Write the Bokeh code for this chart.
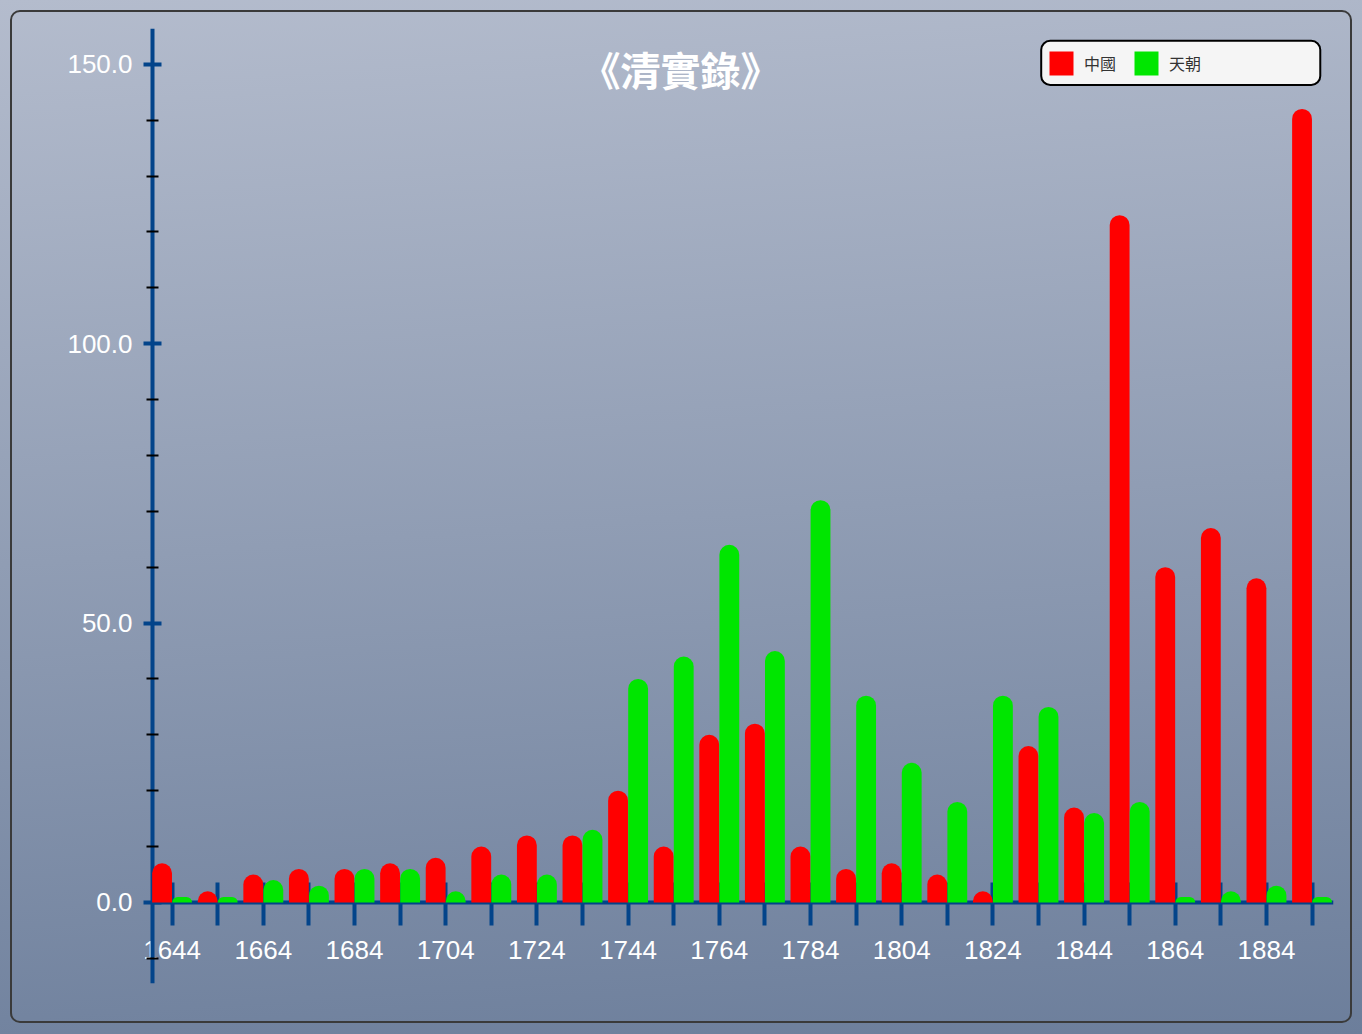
from bokeh.plotting import figure
from bokeh.models import (Range1d, FixedTicker, Label, Legend, LegendItem, LinearAxis,
                          ColumnDataSource, PrintfTickFormatter, CustomJSTickFormatter,
                          BoxAnnotation)
from bokeh.transform import dodge
from bokeh.embed import file_html
from bokeh.resources import INLINE

# ---------------- data ----------------
years = [1644, 1654, 1664, 1674, 1684, 1694, 1704, 1714, 1724, 1734, 1744, 1754, 1764,
         1774, 1784, 1794, 1804, 1814, 1824, 1834, 1844, 1854, 1864, 1874, 1884, 1894]
china = [7, 2, 5, 6, 6, 7, 8, 10, 12, 12, 20, 10, 30,
         32, 10, 6, 7, 5, 2, 28, 17, 123, 60, 67, 58, 142]
tianchao = [1, 1, 4, 3, 6, 6, 2, 5, 5, 13, 40, 44, 64,
            45, 72, 37, 25, 18, 37, 35, 16, 18, 1, 2, 3, 1]
series_names = ["中國", "天朝"]
title_text = "《清實錄》"

x_label_ticks = [1644, 1664, 1684, 1704, 1724, 1744, 1764, 1784, 1804, 1824, 1844, 1864, 1884]
x_minor_ticks = [1654, 1674, 1694, 1714, 1734, 1754, 1774, 1794, 1814, 1834, 1854, 1874, 1894]
y_major_ticks = [0, 50, 100, 150]
y_minor_ticks = [-10, 10, 20, 30, 40, 60, 70, 80, 90, 110, 120, 130, 140]

# axis extents (data units)
X_AXIS_START, X_AXIS_END = 1639.7, 1898.7
X_VIEW_START = 1636.63
Y_START, Y_END = -14.5, 156.4

# ---------------- styling ----------------
AXIS_BLUE = "#03448a"
RED = "#ff0000"
GREEN = "#00e600"
LABEL_FONT = "Liberation Sans"
CJK_FONT = "Noto Sans CJK TC"

p = figure(width=1354, height=1026,
           x_range=Range1d(X_VIEW_START, X_AXIS_END), y_range=Range1d(Y_START, Y_END),
           output_backend="svg", toolbar_location=None,
           min_border_left=138, min_border_right=21,
           min_border_top=28, min_border_bottom=43)

p.background_fill_alpha = 0
p.border_fill_alpha = 0
p.outline_line_color = None
p.xgrid.visible = False
p.ygrid.visible = False
p.stylesheets = [":host{position:relative;}"
                 ":host::after{content:'';position:absolute;left:10px;top:10px;right:2px;"
                 "bottom:3px;box-sizing:border-box;border:2px solid #3a3a3a;"
                 "border-radius:10px;pointer-events:none;}"]

src = ColumnDataSource(dict(year=years, china=china, tianchao=tianchao))

r1 = p.vbar(x=dodge("year", -2.2), top="china", bottom=0, width=4.35, source=src,
            fill_color=RED, line_color=None, border_radius=(10, 10, 0, 0))
r2 = p.vbar(x=dodge("year", 2.2), top="tianchao", bottom=0, width=4.35, source=src,
            fill_color=GREEN, line_color=None, border_radius=(10, 10, 0, 0))
r1.level = "annotation"
r2.level = "annotation"

# x axis (drawn at y = 0)
xa = p.xaxis[0]
xa.fixed_location = 0
xa.bounds = (X_AXIS_START, X_AXIS_END)
xa.ticker = FixedTicker(ticks=x_label_ticks, minor_ticks=x_minor_ticks)
xa.axis_line_color = AXIS_BLUE
xa.axis_line_width = 4
xa.major_tick_line_color = AXIS_BLUE
xa.major_tick_line_width = 4
xa.major_tick_in = 20
xa.major_tick_out = 23
xa.minor_tick_line_color = AXIS_BLUE
xa.minor_tick_line_width = 4
xa.minor_tick_in = 20
xa.minor_tick_out = 23
xa.major_label_text_color = "white"
xa.major_label_text_font = LABEL_FONT
xa.major_label_text_font_size = "26px"
xa.major_label_standoff = 16

# y axis labels (left panel, no line / ticks)
ya = p.yaxis[0]
ya.ticker = FixedTicker(ticks=y_major_ticks)
ya.formatter = PrintfTickFormatter(format="%.1f")
ya.axis_line_color = None
ya.major_tick_line_color = None
ya.minor_tick_line_color = None
ya.major_tick_in = 0
ya.major_tick_out = 0
ya.minor_tick_in = 0
ya.minor_tick_out = 0
ya.major_label_text_color = "white"
ya.major_label_text_font = LABEL_FONT
ya.major_label_text_font_size = "26px"
ya.major_label_standoff = 6

# y axis line and ticks (at the start of the x axis)
ya2 = LinearAxis(fixed_location=X_AXIS_START,
                 ticker=FixedTicker(ticks=y_major_ticks, minor_ticks=y_minor_ticks),
                 formatter=CustomJSTickFormatter(code="return ''"))
ya2.axis_line_color = AXIS_BLUE
ya2.axis_line_width = 4
ya2.major_tick_line_color = AXIS_BLUE
ya2.major_tick_line_width = 4
ya2.major_tick_in = 9
ya2.major_tick_out = 9
ya2.minor_tick_line_color = "black"
ya2.minor_tick_line_width = 2
ya2.minor_tick_in = 6
ya2.minor_tick_out = 6
p.add_layout(ya2, "left")

# title
p.add_layout(Label(x=1755.5, y=149.2, text=title_text, text_align="center",
                   text_baseline="middle", text_font_size="40px",
                   text_font_style="bold", text_color="white", text_font=CJK_FONT))

# legend frame (rounded box behind the legend)
legend_box = BoxAnnotation(left=1834.6, right=1895.8, top=154.2, bottom=146.3,
                           fill_color="#f5f5f5", fill_alpha=1,
                           line_color="black", line_width=2, line_alpha=1)
if "border_radius" in BoxAnnotation.properties():
    legend_box.border_radius = 9
p.add_layout(legend_box)

# legend
legend = Legend(items=[LegendItem(label=series_names[0], renderers=[r1]),
                       LegendItem(label=series_names[1], renderers=[r2])],
                orientation="horizontal", location=(908, 905),
                glyph_width=30, glyph_height=30, label_standoff=8, spacing=15,
                padding=6, margin=0,
                label_text_font=CJK_FONT, label_text_font_size="16px",
                label_text_color="#333333",
                background_fill_alpha=0, border_line_color=None)
p.add_layout(legend)

html = file_html(p, INLINE, title="清實錄")
style = ("<style>html{min-height:100%;background:linear-gradient(176deg,#b4bccd 0%,"
         "#6c7e9b 100%);}body{background:transparent;}</style>")
html = html.replace("</head>", style + "</head>", 1)
open("out.html", "w").write(html)
